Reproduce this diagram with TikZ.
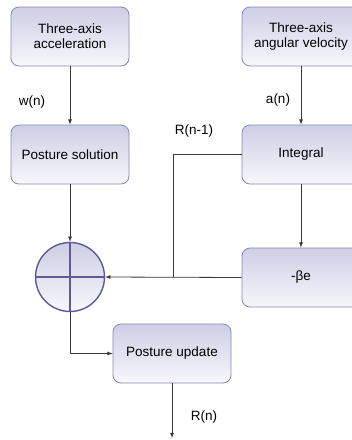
\documentclass[tikz,border=0pt]{standalone}
\usepackage{fontspec}
\setmainfont{Liberation Sans}
\usepackage{tikz}
\usetikzlibrary{arrows}
\definecolor{boxtop}{RGB}{206,206,229}
\definecolor{boxbot}{RGB}{247,247,252}
\definecolor{boxline}{RGB}{138,135,182}
\definecolor{sumline}{RGB}{94,90,150}
\definecolor{wire}{RGB}{55,55,55}

\begin{document}
\begin{tikzpicture}[x=1pt,y=-1pt,>=latex,font=\fontsize{13.5}{15}\selectfont]
	\tikzstyle{block}=[draw=boxline,rounded corners=8pt,top color=boxtop,bottom color=boxbot,minimum width=118pt,minimum height=59pt,align=center,inner sep=2pt,line width=0.8pt]
	\tikzstyle{sum}=[circle,draw=sumline,line width=1.4pt,top color=boxtop,bottom color=boxbot,minimum size=69pt,inner sep=0pt]
	\tikzstyle{wire}=[draw=wire,line width=0.8pt]
	\useasboundingbox (0,0) rectangle (352,440);
	\node[block] (acc) at (70,36.5) {Three-axis\\acceleration};
	\node[block] (sol) at (70,154.5) {Posture solution};
	\node[block] (ang) at (301,36.5) {Three-axis\\angular velocity};
	\node[block] (int) at (301,154.5) {Integral};
	\node[block] (beta) at (301,277.5) {-βe};
	\node[block] (upd) at (172,353.5) {Posture update};
	\node[sum] (sum) at (70,277) {};
	\draw[sumline,line width=1.4pt] (sum.north) -- (sum.south);
	\draw[sumline,line width=1.4pt] (sum.west) -- (sum.east);
	\coordinate (join) at (173,277);
	\coordinate (out) at (172,438);
	\node (wn) at (32,102) {w(n)};
	\node (an) at (278,100) {a(n)};
	\node (rn1) at (194,131) {R(n-1)};
	\node (rn) at (204,417) {R(n)};
	\draw[wire,->] (acc) -- (sol);
	\draw[wire,->] (ang) -- (int);
	\draw[wire,->] (int) -- (beta);
	\draw[wire,->] (sol) -- (sum);
	\draw[wire] (int.west) -| (join);
	\draw[wire,->] (beta.west) -- (sum.east);
	\draw[wire,->] (sum.south) |- (upd.west);
	\draw[wire,->] (upd) -- (out);
\end{tikzpicture}
\end{document}
